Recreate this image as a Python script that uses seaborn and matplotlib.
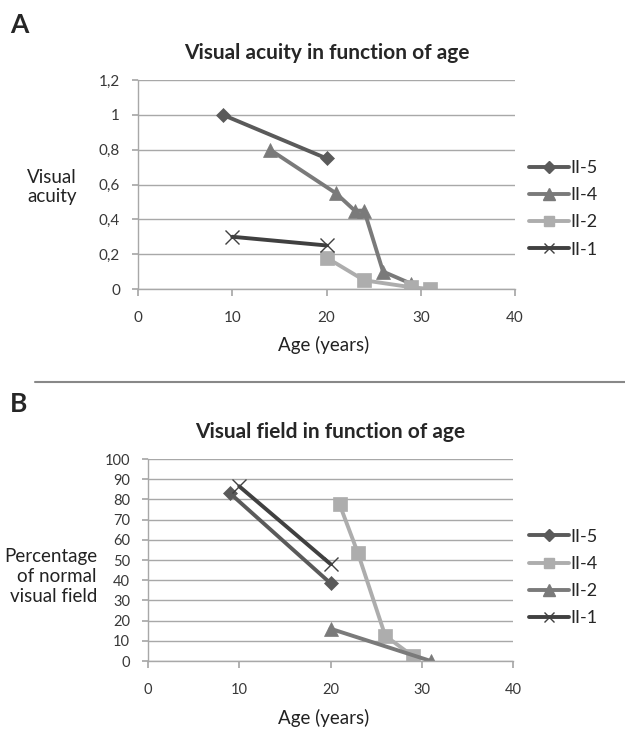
import matplotlib
matplotlib.use('Agg')
import matplotlib.pyplot as plt
from matplotlib.lines import Line2D
import seaborn as sns
import pandas as pd

# Panel A: visual acuity
acuity_ii5_age = [9, 20]
acuity_ii5 = [1.0, 0.75]
acuity_ii4_age = [14, 21, 23, 24, 26, 29]
acuity_ii4 = [0.8, 0.55, 0.45, 0.45, 0.1, 0.03]
acuity_ii2_age = [20, 24, 29, 31]
acuity_ii2 = [0.18, 0.05, 0.01, 0.0]
acuity_ii1_age = [10, 20]
acuity_ii1 = [0.3, 0.25]

# Panel B: visual field (% of normal)
field_ii5_age = [9, 20]
field_ii5 = [83, 38.5]
field_ii4_age = [21, 23, 26, 29]
field_ii4 = [77.5, 53.5, 12.5, 2.5]
field_ii2_age = [20, 31]
field_ii2 = [16, 0]
field_ii1_age = [10, 20]
field_ii1 = [86.5, 48]

x_ticks = [0, 10, 20, 30, 40]
acuity_ticks = [0, 0.2, 0.4, 0.6, 0.8, 1.0, 1.2]
acuity_tick_labels = ['0', '0,2', '0,4', '0,6', '0,8', '1', '1,2']
field_ticks = list(range(0, 101, 10))

DARK = '#5a5a5a'
MID = '#7a7a7a'
LIGHT = '#adadad'
DARKEST = '#404040'
GRID = '#a8a8a8'

sns.set_theme(style='white')
plt.rcParams['font.family'] = ['Lato', 'DejaVu Sans']

fig = plt.figure(figsize=(6.25, 7.3), dpi=100)


def draw_series(ax, x, y, color, marker, ms, label):
    df = pd.DataFrame({'age': x, 'val': y})
    sns.lineplot(data=df, x='age', y='val', ax=ax, color=color, linewidth=2.8,
                 marker=marker, markersize=ms, markeredgecolor=color,
                 markeredgewidth=1.0 if marker == 'x' else 0.5, label=label,
                 legend=False, sort=False)


def style_axes(ax, yticks, ylabels, ymax, tick_size):
    ax.set_xlim(0, 40)
    ax.set_ylim(0, ymax)
    ax.set_xticks(x_ticks)
    ax.set_yticks(yticks)
    ax.set_yticklabels(ylabels)
    ax.yaxis.grid(True, color=GRID, linewidth=1.0)
    ax.set_axisbelow(True)
    for side in ['top', 'right']:
        ax.spines[side].set_visible(False)
    for side in ['left', 'bottom']:
        ax.spines[side].set_color(GRID)
        ax.spines[side].set_linewidth(1.0)
    ax.tick_params(axis='x', direction='out', length=5, color=GRID, pad=11,
                   labelsize=tick_size, labelcolor='#383838', bottom=True)
    ax.tick_params(axis='y', direction='out', length=4, color=GRID, pad=9,
                   labelsize=tick_size, labelcolor='#383838', left=True)
    ax.set_xlabel('')
    ax.set_ylabel('')


def legend_handles(items):
    return [Line2D([0], [0], color=c, linewidth=2.8, marker=m, markersize=s,
                   markeredgecolor=c, label=l) for c, m, s, l in items]


# ---------- Panel A ----------
axA = fig.add_axes([0.2208, 0.6041, 0.6032, 0.2863])
draw_series(axA, acuity_ii5_age, acuity_ii5, DARK, 'D', 7.5, 'II-5')
draw_series(axA, acuity_ii4_age, acuity_ii4, MID, '^', 10.5, 'II-4')
draw_series(axA, acuity_ii2_age, acuity_ii2, LIGHT, 's', 9.5, 'II-2')
draw_series(axA, acuity_ii1_age, acuity_ii1, DARKEST, 'x', 9.5, 'II-1')
style_axes(axA, acuity_ticks, acuity_tick_labels, 1.2, 11)
axA.set_title('Visual acuity in function of age', fontsize=15, fontweight='bold', pad=15)
fig.text(0.083, 0.744, 'Visual\nacuity', ha='center', va='center', fontsize=13.5,
         color='#222222', linespacing=1.15)
fig.text(0.517, 0.527, 'Age (years)', ha='center', va='center', fontsize=13.5, color='#222222')
fig.text(0.016, 0.966, 'A', ha='left', va='center', fontsize=19, fontweight='bold')
legA = fig.legend(handles=legend_handles([(DARK, 'D', 6, 'II-5'), (MID, '^', 8, 'II-4'),
                                          (LIGHT, 's', 7, 'II-2'), (DARKEST, 'x', 7, 'II-1')]),
                  loc='center left', bbox_to_anchor=(0.835, 0.714), frameon=False,
                  fontsize=13, handlelength=2.2, handletextpad=0.1, labelspacing=0.62,
                  borderaxespad=0)

# separator line
fig.add_artist(Line2D([0.056, 1.0], [1 - 382 / 730, 1 - 382 / 730], color='#888888',
                      linewidth=1.5, transform=fig.transFigure))

# ---------- Panel B ----------
axB = fig.add_axes([0.2368, 0.0945, 0.584, 0.2767])
draw_series(axB, field_ii5_age, field_ii5, DARK, 'D', 7.5, 'II-5')
draw_series(axB, field_ii4_age, field_ii4, LIGHT, 's', 9.5, 'II-4')
draw_series(axB, field_ii2_age, field_ii2, MID, '^', 10.5, 'II-2')
draw_series(axB, field_ii1_age, field_ii1, DARKEST, 'x', 9.5, 'II-1')
style_axes(axB, field_ticks, [str(t) for t in field_ticks], 100, 10.5)
axB.set_title('Visual field in function of age', fontsize=15, fontweight='bold', pad=15)
fig.text(0.155, 0.21, 'Percentage\nof normal\nvisual field', ha='right', va='center',
         fontsize=13.5, color='#222222', linespacing=1.2, multialignment='right')
fig.text(0.517, 0.004, 'Age (years)', ha='center', va='bottom', fontsize=13.5, color='#222222')
fig.text(0.016, 0.446, 'B', ha='left', va='center', fontsize=19, fontweight='bold')
legB = fig.legend(handles=legend_handles([(DARK, 'D', 6, 'II-5'), (LIGHT, 's', 7, 'II-4'),
                                          (MID, '^', 8, 'II-2'), (DARKEST, 'x', 7, 'II-1')]),
                  loc='center left', bbox_to_anchor=(0.835, 0.209), frameon=False,
                  fontsize=13, handlelength=2.2, handletextpad=0.1, labelspacing=0.62,
                  borderaxespad=0)

fig.savefig('out.png', dpi=100, facecolor='white')
